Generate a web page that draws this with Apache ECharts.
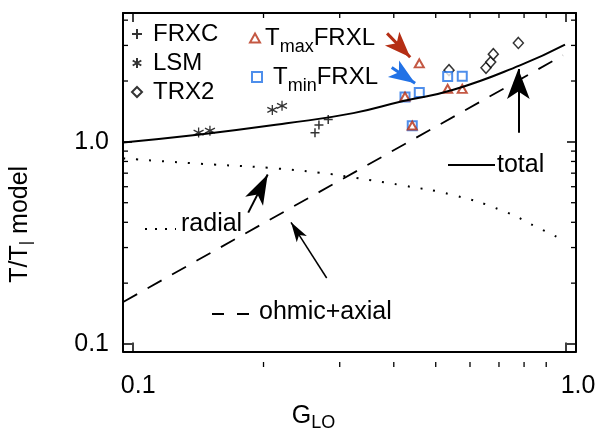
<!DOCTYPE html>
<html lang="en">
<head>
<meta charset="UTF-8">
<title>T/T model vs G_LO</title>
<script src="https://cdn.jsdelivr.net/npm/echarts@6/dist/echarts.min.js"></script>
<style>html,body{margin:0;padding:0;background:#fff}</style>
</head>
<body>
<div id="main" style="width:599px;height:437px"></div>
<script>
// model curves
var totalX = [0.0948, 0.1426, 0.2262, 0.3224, 0.4207, 0.549, 0.7827, 0.9947];
var totalY = [0.994, 1.087, 1.235, 1.387, 1.592, 1.809, 2.391, 3.029];
var radialX = [0.0948, 0.145, 0.2069, 0.27, 0.3224, 0.4207, 0.549, 0.7164, 0.8557, 1.0];
var radialY = [0.828, 0.778, 0.743, 0.703, 0.666, 0.608, 0.545, 0.455, 0.379, 0.322];
var ohmicX = [0.0948, 0.984];
var ohmicY = [0.1615, 2.678];

// measured points
var frxcX = [0.263, 0.2686, 0.2822];
var frxcY = [1.108, 1.213, 1.290];
var lsmX = [0.1416, 0.1504, 0.2096, 0.2207];
var lsmY = [1.111, 1.136, 1.439, 1.508];
var trx2X = [0.5366, 0.6533, 0.6699, 0.6792, 0.776];
var trx2Y = [2.264, 2.325, 2.481, 2.716, 3.086];
var tmaxX = [0.4246, 0.4413, 0.4581, 0.5328, 0.5758];
var tmaxY = [1.674, 1.204, 2.444, 1.829, 1.829];
var tminX = [0.4246, 0.4413, 0.4581, 0.5328, 0.5758];
var tminY = [1.669, 1.2, 1.756, 2.107, 2.114];

// arrows: [tailX, tailY, tipX, tipY]
var arrowTotal = [0.776, 1.108, 0.776, 2.29];
var arrowRadial = [0.1844, 0.4464, 0.2045, 0.69];
var arrowOhmic = [0.2799, 0.2121, 0.2315, 0.40];
var arrowTmax = [0.386, 3.441, 0.4365, 2.62];
var arrowTmin = [0.3956, 2.332, 0.448, 1.95];

var xLabels = {0.1: '{l|0.1}', 1: '{r|1.0}'};
var yLabels = {0.1: '0.1', 1: '1.0'};
var xMinor = [0.2, 0.3, 0.4, 0.5, 0.6, 0.7, 0.8, 0.9];
var yMinor = [0.2, 0.3, 0.4, 0.5, 0.6, 0.7, 0.8, 0.9, 2, 3, 4];

var FONT = "'Liberation Sans', Arial, sans-serif";
var RED = '#b52e14', BLUE = '#2272e6';
var G = {left: 123, right: 576, top: 13, bottom: 367};

function zip(a, b) { return a.map(function (v, i) { return [v, b[i]]; }); }
function arrow(a, color, width, size) {
    return {
        silent: true, symbol: ['none', 'arrow'], label: {show: false},
        lineStyle: {color: color, width: width, type: 'solid'},
        data: [[{coord: [a[0], a[1]], symbol: 'none'},
                {coord: [a[2], a[3]], symbol: 'arrow', symbolSize: size}]]
    };
}
function pickLabel(map) {
    return function (v) {
        for (var k in map) if (Math.abs(v - Number(k)) < 1e-6 * Number(k)) return map[k];
        return '';
    };
}

var chart = echarts.init(document.getElementById('main'));
var axisLine = {lineStyle: {color: '#000', width: 2}};
var axisTick = {inside: true, length: 9, lineStyle: {color: '#000', width: 1.5}};

chart.setOption({
    animation: false,
    textStyle: {fontFamily: FONT},
    grid: {left: G.left, right: 599 - G.right, top: G.top, bottom: 437 - G.bottom},
    xAxis: [{
        type: 'log', min: 0.0947, max: 1.0546, position: 'bottom',
        axisLine: axisLine, axisTick: axisTick, splitLine: {show: false},
        axisLabel: {formatter: pickLabel(xLabels), margin: 22, rich: {
            l: {fontSize: 25, color: '#000', fontFamily: FONT, padding: [0, 0, 0, 10]},
            r: {fontSize: 25, color: '#000', fontFamily: FONT, padding: [0, 0, 0, 24]}
        }},
        name: '{g|G}{s|LO}', nameLocation: 'middle', nameGap: 46,
        nameTextStyle: {padding: [0, 72, 0, 0], rich: {
            g: {fontSize: 25, color: '#000', fontFamily: FONT},
            s: {fontSize: 18, color: '#000', fontFamily: FONT, padding: [14, 0, 0, 0]}
        }}
    }, {
        type: 'log', min: 0.0947, max: 1.0546, position: 'top',
        axisLine: axisLine, axisTick: axisTick, splitLine: {show: false}, axisLabel: {show: false}
    }],
    yAxis: [{
        type: 'log', min: 0.0917, max: 4.34, position: 'left',
        axisLine: axisLine, axisTick: axisTick, splitLine: {show: false},
        axisLabel: {formatter: pickLabel(yLabels), fontSize: 25, color: '#000', margin: 14,
            fontFamily: FONT, padding: [0, 0, 12, 0]},
        name: '{a|T/T}{b||}{a| model}', nameLocation: 'middle', nameGap: 88,
        nameTextStyle: {padding: [0, 84, 0, 0], rich: {
            a: {fontSize: 25, color: '#000', fontFamily: FONT},
            b: {fontSize: 17, color: '#000', fontFamily: FONT, padding: [12, 0, 0, 0]}
        }}
    }, {
        type: 'log', min: 0.0917, max: 4.34, position: 'right',
        axisLine: axisLine, axisTick: axisTick, splitLine: {show: false}, axisLabel: {show: false}
    }],
    legend: [{
        data: ['FRXC', 'LSM', 'TRX2'], orient: 'vertical', left: 131, top: 22, padding: 0,
        itemWidth: 10, itemHeight: 10, itemGap: 5, selectedMode: false,
        formatter: function (n) { return '{n|' + n + '}'; },
        textStyle: {rich: {n: {fontSize: 24, lineHeight: 24, color: '#000', fontFamily: FONT, padding: [0, 0, 0, 6]}}}
    }, {
        data: ['TmaxFRXL'], left: 249, top: 26, padding: 0, itemWidth: 10, itemHeight: 9, selectedMode: false,
        formatter: function () { return '{t|T}{s|max}{t|FRXL}'; },
        textStyle: {rich: {
            t: {fontSize: 24, color: '#000', fontFamily: FONT},
            s: {fontSize: 18, color: '#000', fontFamily: FONT, padding: [18, 0, 0, 0]}
        }}
    }, {
        data: ['TminFRXL'], left: 251, top: 65, padding: 0, itemWidth: 10, itemHeight: 10, selectedMode: false,
        formatter: function () { return '{p|T}{s|min}{t|FRXL}'; },
        textStyle: {rich: {
            p: {fontSize: 24, color: '#000', fontFamily: FONT, padding: [0, 0, 0, 6]},
            t: {fontSize: 24, color: '#000', fontFamily: FONT},
            s: {fontSize: 18, color: '#000', fontFamily: FONT, padding: [18, 0, 0, 0]}
        }}
    }],
    series: [{
        name: 'ohmic+axial', type: 'line', data: zip(ohmicX, ohmicY), symbol: 'none',
        lineStyle: {color: '#000', width: 1.8, type: [16, 12]},
        markLine: arrow(arrowOhmic, '#000', 1.5, [9, 20])
    }, {
        name: 'radial', type: 'line', data: zip(radialX, radialY), symbol: 'none', smooth: true,
        lineStyle: {color: '#000', width: 2, type: [2, 11]},
        markLine: arrow(arrowRadial, '#000', 2, [15, 30])
    }, {
        name: 'total', type: 'line', data: zip(totalX, totalY), symbol: 'none', smooth: true,
        lineStyle: {color: '#000', width: 2, type: 'solid'},
        markLine: arrow(arrowTotal, '#000', 2, [17, 30])
    }, {
        name: 'FRXC', type: 'scatter', data: zip(frxcX, frxcY),
        symbol: 'path://M0,-5L0,5M-5,0L5,0', symbolSize: 9,
        itemStyle: {color: '#000', borderColor: '#000', borderWidth: 1.5}
    }, {
        name: 'LSM', type: 'scatter', data: zip(lsmX, lsmY),
        symbol: 'path://M0,-5L0,5M-4.3,-2.5L4.3,2.5M-4.3,2.5L4.3,-2.5', symbolSize: 10,
        itemStyle: {color: '#000', borderColor: '#000', borderWidth: 1.3}
    }, {
        name: 'TRX2', type: 'scatter', data: zip(trx2X, trx2Y),
        symbol: 'diamond', symbolSize: [10, 11],
        itemStyle: {color: '#fff', borderColor: '#000', borderWidth: 1.5}
    }, {
        name: 'TminFRXL', type: 'scatter', data: zip(tminX, tminY),
        symbol: 'rect', symbolSize: 9,
        itemStyle: {color: '#fff', borderColor: BLUE, borderWidth: 2},
        markLine: arrow(arrowTmin, BLUE, 3, [15, 26])
    }, {
        name: 'TmaxFRXL', type: 'scatter', data: zip(tmaxX, tmaxY),
        symbol: 'triangle', symbolSize: [9, 8],
        itemStyle: {color: '#fff', borderColor: RED, borderWidth: 2},
        markLine: arrow(arrowTmax, RED, 3, [15, 26])
    }]
});

// minor ticks (log-spaced) on all four sides, placed through the axes
var minor = [];
xMinor.forEach(function (v) {
    var px = chart.convertToPixel({xAxisIndex: 0}, v);
    minor.push({type: 'line', shape: {x1: px, y1: G.bottom, x2: px, y2: G.bottom - 5}});
    minor.push({type: 'line', shape: {x1: px, y1: G.top, x2: px, y2: G.top + 5}});
});
yMinor.forEach(function (v) {
    var py = chart.convertToPixel({yAxisIndex: 0}, v);
    minor.push({type: 'line', shape: {x1: G.left, y1: py, x2: G.left + 5, y2: py}});
    minor.push({type: 'line', shape: {x1: G.right, y1: py, x2: G.right - 5, y2: py}});
});
minor.forEach(function (m) { m.style = {stroke: '#000', lineWidth: 1.3}; m.silent = true; });

// line-style key placed in the plot
var key = [
    {type: 'line', shape: {x1: 448, y1: 165, x2: 495, y2: 165}, style: {stroke: '#000', lineWidth: 2}},
    {type: 'text', x: 497, y: 165, style: {text: 'total', font: '25px ' + FONT, fill: '#000', textVerticalAlign: 'middle'}},
    {type: 'line', shape: {x1: 145, y1: 229, x2: 176, y2: 229}, style: {stroke: '#000', lineWidth: 2, lineDash: [2, 8]}},
    {type: 'text', x: 181, y: 224, style: {text: 'radial', font: '25px ' + FONT, fill: '#000', textVerticalAlign: 'middle'}},
    {type: 'line', shape: {x1: 212, y1: 314, x2: 249, y2: 314}, style: {stroke: '#000', lineWidth: 1.8, lineDash: [12, 13]}},
    {type: 'text', x: 259, y: 312, style: {text: 'ohmic+axial', font: '25px ' + FONT, fill: '#000', textVerticalAlign: 'middle'}}
];
key.forEach(function (k) { k.silent = true; });

chart.setOption({graphic: minor.concat(key)});
</script>
</body>
</html>
